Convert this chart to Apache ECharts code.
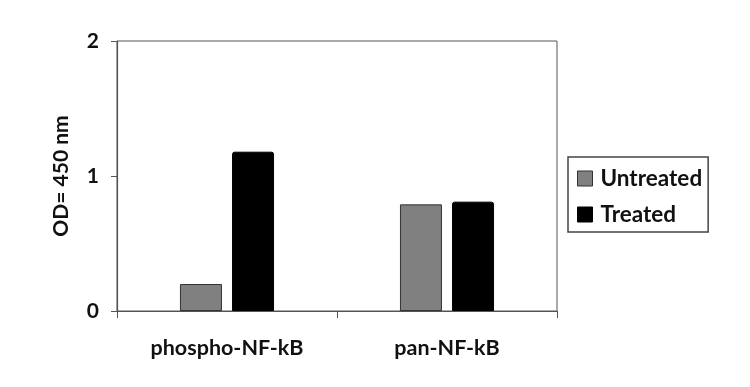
<!DOCTYPE html>
<html><head><meta charset="utf-8">
<script src="https://cdn.jsdelivr.net/npm/echarts@6/dist/echarts.min.js"></script>
<style>html,body{margin:0;padding:0;background:#fff}#c{width:750px;height:387px}</style>
</head><body><div id="c"></div>
<script>
var categories = ['phospho-NF-kB', 'pan-NF-kB'];
var untreated = [0.20, 0.79];
var treated = [1.18, 0.81];
var yTicks = [0, 1, 2];

var FONT = 'Lato';
var chart = echarts.init(document.getElementById('c'), null, {renderer: 'canvas'});
chart.setOption({
  animation: false,
  backgroundColor: '#fff',
  grid: {left: 117, right: 193, top: 41, bottom: 76, show: true, borderColor: '#555', borderWidth: 1, backgroundColor: 'transparent'},
  legend: {
    orient: 'vertical', left: 568, top: 157,
    padding: [10, 6, 6, 9], itemGap: 13,
    borderColor: '#444', borderWidth: 1.5,
    icon: 'rect', itemWidth: 15, itemHeight: 15,
    textStyle: {fontFamily: FONT, fontWeight: 'bold', fontSize: 22.5, color: '#111', padding: [0, 0, 0, 3]},
    data: [
      {name: 'Untreated', itemStyle: {color: '#808080', borderColor: '#333', borderWidth: 1}},
      {name: 'Treated', itemStyle: {color: '#000', borderColor: '#000', borderWidth: 1}}
    ]
  },
  xAxis: {
    type: 'category', data: categories,
    axisLine: {lineStyle: {color: '#555', width: 1.2}},
    axisTick: {show: true, length: 7, lineStyle: {color: '#555'}},
    axisLabel: {fontFamily: FONT, fontWeight: 'bold', fontSize: 21.5, color: '#111', margin: 26}
  },
  yAxis: {
    type: 'value', min: 0, max: 2, interval: 1,
    name: 'OD= 450 nm', nameLocation: 'middle', nameRotate: 90, nameGap: 45,
    nameTextStyle: {fontFamily: FONT, fontWeight: 'bold', fontSize: 21, color: '#111'},
    axisLine: {show: true, lineStyle: {color: '#555', width: 1.2}},
    axisTick: {show: true, length: 6, lineStyle: {color: '#555'}},
    splitLine: {show: false},
    axisLabel: {fontFamily: FONT, fontWeight: 'bold', fontSize: 21, color: '#111', margin: 18,
      formatter: function (v) { return yTicks.indexOf(v) >= 0 ? String(v) : ''; }}
  },
  series: [
    {name: 'Untreated', type: 'bar', data: untreated, barWidth: 42, barGap: '24%',
      itemStyle: {color: '#808080', borderColor: '#333', borderWidth: 1}},
    {name: 'Treated', type: 'bar', data: treated, barWidth: 42,
      itemStyle: {color: '#000', borderColor: '#000', borderWidth: 1, borderRadius: [2, 2, 0, 0]}}
  ]
});
</script></body></html>
